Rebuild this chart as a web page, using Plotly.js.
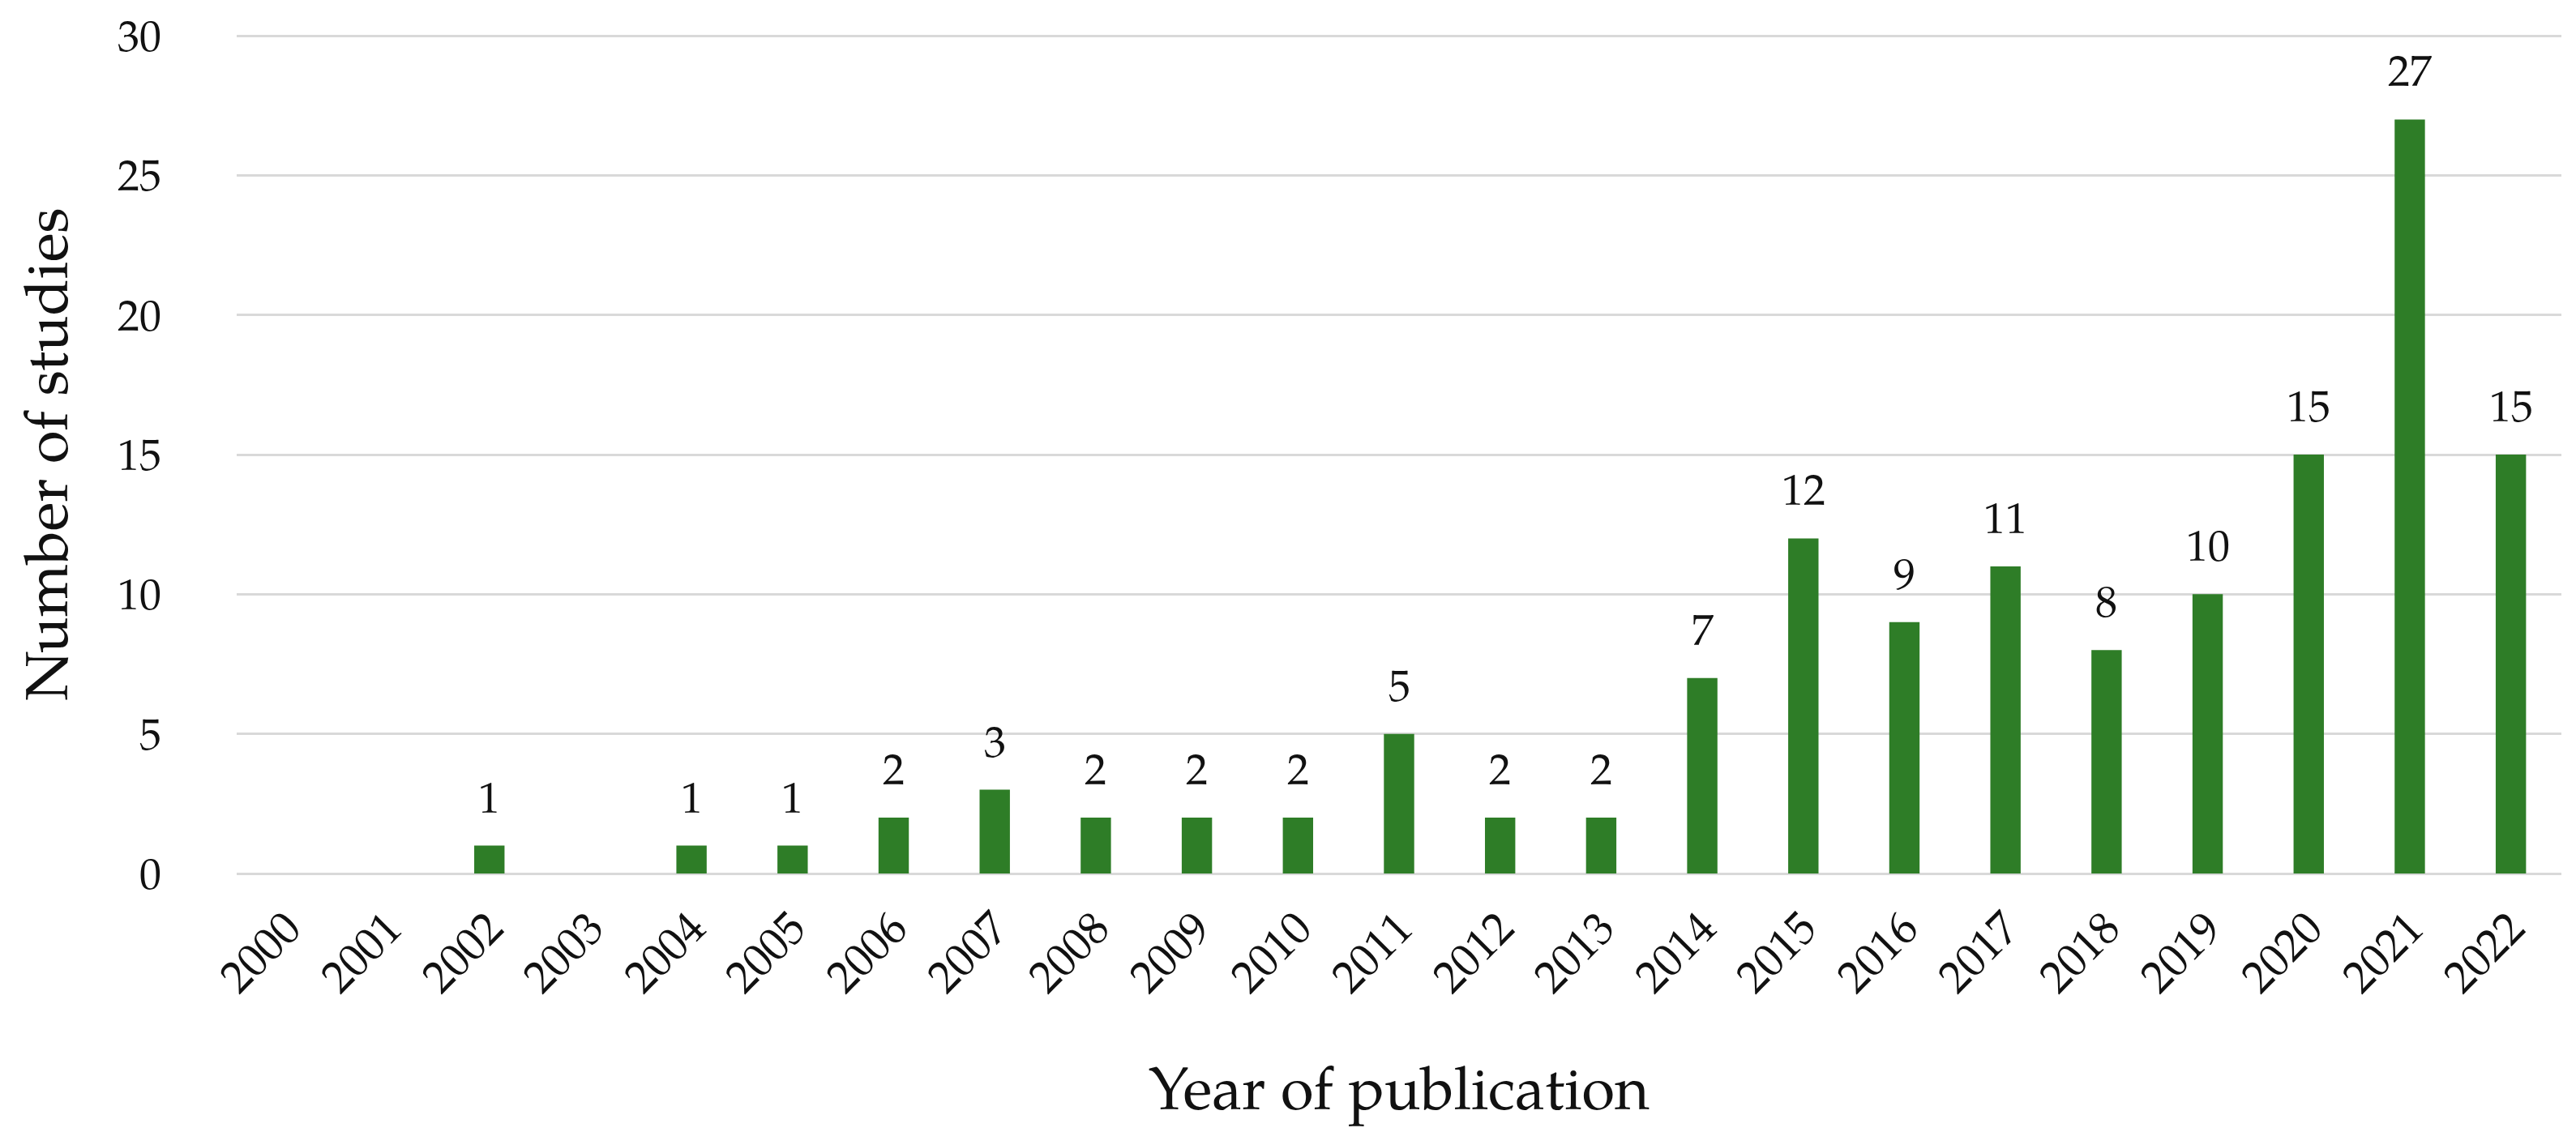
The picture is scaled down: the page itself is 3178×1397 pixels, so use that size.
<!DOCTYPE html>
<html>
<head>
<meta charset="utf-8">
<script src="https://cdn.plot.ly/plotly-3.0.1.min.js"></script>
<style>
  html, body { margin: 0; padding: 0; background: #fff; }
  #chart { width: 3178px; height: 1397px; }
</style>
</head>
<body>
<div id="chart"></div>
<script>
const years = ["2000", "2001", "2002", "2003", "2004", "2005", "2006", "2007",
  "2008", "2009", "2010", "2011", "2012", "2013", "2014", "2015", "2016",
  "2017", "2018", "2019", "2020", "2021", "2022"];
const studies = [0, 0, 1, 0, 1, 1, 2, 3, 2, 2, 2, 5, 2, 2, 7, 12, 9, 11, 8, 10, 15, 27, 15];
const yTicks = [0, 5, 10, 15, 20, 25, 30];

const FONT = "'Palatino Linotype', 'Book Antiqua', Palatino, P052, 'TeX Gyre Pagella', 'Liberation Serif', serif";
const GREEN = "#2e7d27";
const GRID = "#d9d9d9";
const INK = "#111111";

// value labels only over bars that have studies
// (x given as category index, a numeric-looking string would be read as a position)
const labels = [];
for (let i = 0; i < years.length; i++) {
  if (studies[i] > 0) {
    labels.push({
      x: i,
      y: studies[i],
      text: String(studies[i]),
      showarrow: false,
      yanchor: "bottom",
      yshift: 24,
      font: { family: FONT, size: 54, color: INK },
    });
  }
}

const data = [
  {
    type: "bar",
    x: years,
    y: studies,
    marker: { color: GREEN },
    hoverinfo: "x+y",
  },
];

const layout = {
  width: 3178,
  height: 1397,
  margin: { l: 292, r: 18, t: 43, b: 319 },
  paper_bgcolor: "#ffffff",
  plot_bgcolor: "#ffffff",
  bargap: 0.7,
  showlegend: false,
  font: { family: FONT, size: 54, color: INK },
  xaxis: {
    type: "category",
    range: [-0.5, years.length - 0.5],
    tickangle: -45,
    ticks: "",
    showgrid: false,
    showline: false,
    zeroline: false,
    ticklabelstandoff: 22,
    tickfont: { family: FONT, size: 56, color: INK },
    title: {
      text: "Year of publication",
      standoff: 78,
      font: { family: FONT, size: 74, color: INK },
    },
  },
  yaxis: {
    range: [0, 30.03],
    tickvals: yTicks,
    ticks: "",
    showline: false,
    showgrid: true,
    gridcolor: GRID,
    gridwidth: 3,
    zeroline: true,
    zerolinecolor: GRID,
    zerolinewidth: 3,
    ticklabelstandoff: 92,
    tickfont: { family: FONT, size: 54, color: INK },
    title: {
      text: "Number of studies",
      standoff: 37,
      font: { family: FONT, size: 74, color: INK },
    },
  },
  annotations: labels,
};

Plotly.newPlot("chart", data, layout, { displayModeBar: false, staticPlot: true });
</script>
</body>
</html>
